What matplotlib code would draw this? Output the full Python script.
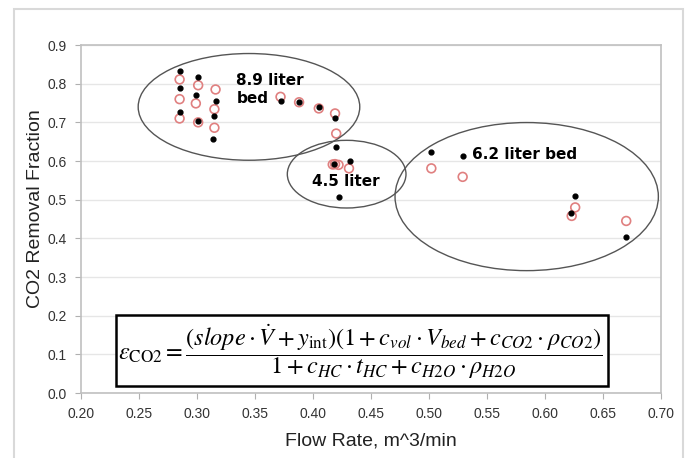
import matplotlib
matplotlib.use('Agg')
import matplotlib.pyplot as plt
from matplotlib.patches import Ellipse, Rectangle

# measured removal fraction (black dots)
flow_meas = [0.285, 0.285, 0.285, 0.301, 0.299, 0.301, 0.316, 0.315, 0.314,
             0.372, 0.388, 0.405, 0.419, 0.420, 0.418, 0.432, 0.422,
             0.502, 0.529, 0.626, 0.622, 0.670]
frac_meas = [0.833, 0.788, 0.727, 0.818, 0.772, 0.704, 0.756, 0.717, 0.656,
             0.756, 0.752, 0.739, 0.712, 0.637, 0.591, 0.600, 0.508,
             0.624, 0.613, 0.509, 0.465, 0.403]

# model prediction (open red circles)
flow_model = [0.285, 0.285, 0.285, 0.301, 0.299, 0.301, 0.316, 0.315, 0.315,
              0.372, 0.388, 0.405, 0.419, 0.420, 0.417, 0.419, 0.422, 0.431,
              0.502, 0.529, 0.626, 0.623, 0.670]
frac_model = [0.811, 0.760, 0.710, 0.796, 0.749, 0.700, 0.785, 0.734, 0.686,
              0.766, 0.752, 0.736, 0.723, 0.671, 0.591, 0.592, 0.590, 0.581,
              0.581, 0.559, 0.480, 0.458, 0.445]

# bed groups: label, label position, ellipse centre / size
bed_labels = ['8.9 liter\nbed', '4.5 liter', '6.2 liter bed']
label_xy = [(0.334, 0.785), (0.399, 0.548), (0.537, 0.617)]
ell_centers = [(0.3448, 0.740), (0.429, 0.566), (0.5842, 0.508)]
ell_sizes = [(0.191, 0.276), (0.1023, 0.175), (0.227, 0.383)]

x_ticks = [0.20, 0.25, 0.30, 0.35, 0.40, 0.45, 0.50, 0.55, 0.60, 0.65, 0.70]
y_ticks = [0.0, 0.1, 0.2, 0.3, 0.4, 0.5, 0.6, 0.7, 0.8, 0.9]

plt.rcParams['mathtext.fontset'] = 'stix'
plt.rcParams['font.family'] = ['Liberation Sans', 'DejaVu Sans']

fig = plt.figure(figsize=(6.87, 4.58), dpi=100)
ax = fig.add_axes([0.1179, 0.1419, 0.8443, 0.7598])

# light frame round the whole chart
fig.patches.append(Rectangle((14 / 687, -0.1), 669 / 687, 1.1 - 9 / 458,
                             transform=fig.transFigure, fill=False,
                             edgecolor='#d9d9d9', linewidth=1.5))

ax.set_xlim(0.2, 0.7)
ax.set_ylim(0.0, 0.9)
ax.set_xticks(x_ticks)
ax.set_yticks(y_ticks)
ax.set_xticklabels(['%.2f' % v for v in x_ticks])
ax.set_yticklabels(['%.1f' % v for v in y_ticks])
for lab in ax.get_xticklabels() + ax.get_yticklabels():
    lab.set_fontsize(10)
    lab.set_color('#333333')
ax.tick_params(direction='out', length=4, color='#b0b0b0', pad=6)
ax.grid(axis='y', color='#e6e6e6', linewidth=1)
ax.set_axisbelow(True)
for s in ax.spines.values():
    s.set_color('#c0c0c0')
    s.set_linewidth(1.2)

ax.scatter(flow_model, frac_model, s=40, facecolors='none',
           edgecolors='#e08080', linewidths=1.2, zorder=3)
ax.scatter(flow_meas, frac_meas, s=12, color='black', zorder=4)

for (cx, cy), (w, h) in zip(ell_centers, ell_sizes):
    ax.add_patch(Ellipse((cx, cy), w, h, fill=False, edgecolor='#555555',
                         linewidth=1.0, zorder=5))
for txt, (tx, ty) in zip(bed_labels, label_xy):
    ax.text(tx, ty, txt, ha='left', va='center', fontsize=11,
            fontweight='bold', family='DejaVu Sans', zorder=6)

# formula box
ax.add_patch(Rectangle((0.230, 0.018), 0.424, 0.184, facecolor='white',
                       edgecolor='black', linewidth=1.8, zorder=6))
formula = (r'$\varepsilon_{\mathrm{CO2}} = \dfrac{(slope\cdot\dot{V} + y_{\mathrm{int}})'
           r'(1 + c_{vol}\cdot V_{bed} + c_{CO2}\cdot \rho_{CO2})}'
           r'{1 + c_{HC}\cdot t_{HC} + c_{H2O}\cdot \rho_{H2O}}$')
ax.text(0.441, 0.108, formula, ha='center', va='center', fontsize=17.5, zorder=7)

ax.set_xlabel('Flow Rate, m^3/min', fontsize=14, labelpad=8, color='#222222')
ax.set_ylabel('CO2 Removal Fraction', fontsize=14, color='#222222')
ax.yaxis.set_label_coords(-0.064, 0.53)

fig.savefig('out.png', dpi=100)
